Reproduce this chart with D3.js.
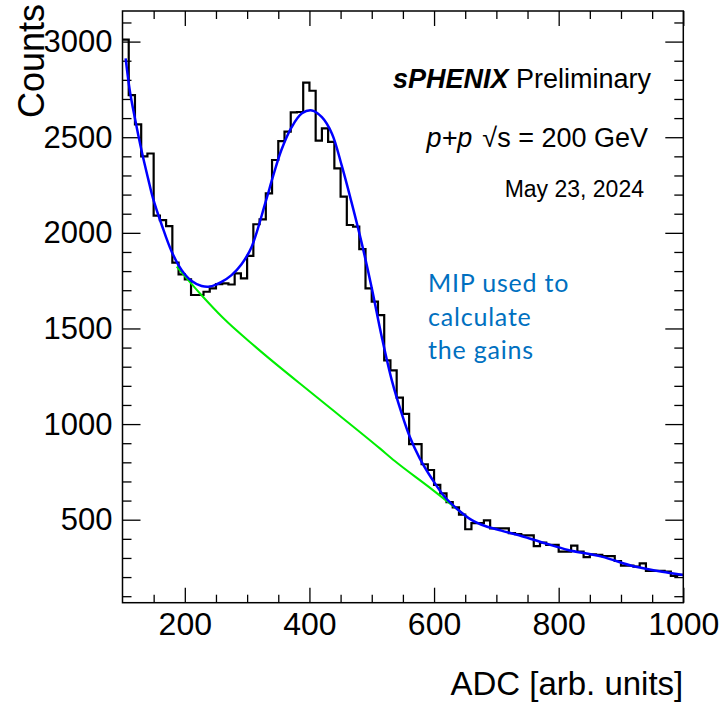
<!DOCTYPE html>
<html>
<head>
<meta charset="utf-8">
<script src="https://cdn.jsdelivr.net/npm/d3@7"></script>
<style>
  html, body { margin: 0; padding: 0; background: #fff; }
  svg { display: block; }
</style>
</head>
<body>
<svg id="chart" width="723" height="706"></svg>
<script>
// ---------------- data ----------------
const binLowEdges = d3.range(100, 1000, 10);   // 90 bins of width 10 ADC
const binWidth = 10;
const counts = [
  3010, 2720, 2567, 2400, 2415, 2090, 2067, 2035, 1844, 1783,
  1757, 1675, 1675, 1692, 1710, 1732, 1736, 1730, 1788, 1762,
  1880, 2045, 2070, 2206, 2381, 2480, 2529, 2630, 2632, 2785,
  2743, 2482, 2546, 2476, 2337, 2189, 2041, 2032, 1915, 1710,
  1640, 1570, 1333, 1281, 1138, 1053, 895, 895, 790, 760,
  682, 638, 592, 564, 527, 450, 482, 482, 497, 455,
  455, 455, 430, 425, 418, 418, 362, 380, 368, 368,
  333, 333, 364, 333, 304, 319, 316, 310, 310, 284,
  260, 260, 255, 272, 232, 232, 232, 228, 206, 211
];
// total fit (signal + background)
const fitX = [105, 112, 120, 131, 141, 149, 163, 179, 195, 211, 227, 240, 259, 275, 291, 307, 329, 342, 355, 371, 388, 404, 420, 436, 452, 468, 484, 500, 516, 532, 548, 561, 577, 596, 617, 639, 660, 682, 708, 740, 778, 815, 869, 922, 976, 1000];
const fitY = [2912, 2738, 2598, 2424, 2285, 2180, 2041, 1901, 1805, 1748, 1722, 1719, 1744, 1779, 1836, 1925, 2154, 2300, 2433, 2550, 2625, 2640, 2605, 2520, 2350, 2154, 1945, 1712, 1457, 1231, 1056, 934, 821, 717, 620, 551, 499, 467, 443, 415, 377, 342, 307, 255, 223, 211];
// background component
const bkgX = [187, 224, 262, 313, 414, 513, 537, 591, 652];
const bkgY = [1823, 1684, 1553, 1405, 1135, 873, 807, 673, 516];

const xMajorTicks = [200, 400, 600, 800, 1000];
const yMajorTicks = [500, 1000, 1500, 2000, 2500, 3000];
const xDomain = [100, 1000];
const yDomain = [66, 3160];

const xTitle = "ADC [arb. units]";
const yTitle = "Counts";
const noteLines = ["MIP used to", "calculate", "the gains"];

// ---------------- layout ----------------
const svg = d3.select("#chart");
const L = 122.5, R = 683.3, T = 11, B = 602.7;
const x = d3.scaleLinear().domain(xDomain).range([L, R]);
const y = d3.scaleLinear().domain(yDomain).range([B, T]);
const font = "'Liberation Sans', Arial, Helvetica, sans-serif";

svg.append("rect").attr("width", 723).attr("height", 706).attr("fill", "#fff");

svg.append("clipPath").attr("id", "clip")
  .append("rect").attr("x", L).attr("y", T).attr("width", R - L).attr("height", B - T);

// ---- axes (ticks pointing inward) ----
function styleAxis(g) {
  g.select(".domain").remove();
  g.selectAll(".tick line").attr("stroke", "#000").attr("stroke-width", 1.3);
}
const xMinor = d3.range(150, 1000, 50).filter(v => !xMajorTicks.includes(v));
const yMinor = d3.range(100, 3200, 100).filter(v => !yMajorTicks.includes(v) && v >= yDomain[0] && v <= yDomain[1]);

// bottom
svg.append("g").attr("transform", `translate(0,${B})`)
  .call(d3.axisBottom(x).tickValues(xMajorTicks).tickSize(-15).tickPadding(10).tickFormat(d3.format("d")))
  .call(styleAxis)
  .call(g => g.selectAll("text").attr("font-family", font).attr("font-size", 32).attr("fill", "#000"));
svg.append("g").attr("transform", `translate(0,${B})`)
  .call(d3.axisBottom(x).tickValues(xMinor).tickSize(-8).tickFormat(""))
  .call(styleAxis);
// top
svg.append("g").attr("transform", `translate(0,${T})`)
  .call(d3.axisTop(x).tickValues(xMajorTicks).tickSize(-15).tickFormat(""))
  .call(styleAxis);
svg.append("g").attr("transform", `translate(0,${T})`)
  .call(d3.axisTop(x).tickValues(xMinor).tickSize(-8).tickFormat(""))
  .call(styleAxis);
// left
svg.append("g").attr("transform", `translate(${L},0)`)
  .call(d3.axisLeft(y).tickValues(yMajorTicks).tickSize(-18).tickPadding(10).tickFormat(d3.format("d")))
  .call(styleAxis)
  .call(g => g.selectAll("text").attr("font-family", font).attr("font-size", 31).attr("fill", "#000"));
svg.append("g").attr("transform", `translate(${L},0)`)
  .call(d3.axisLeft(y).tickValues(yMinor).tickSize(-9).tickFormat(""))
  .call(styleAxis);
// right
svg.append("g").attr("transform", `translate(${R},0)`)
  .call(d3.axisRight(y).tickValues(yMajorTicks).tickSize(-18).tickFormat(""))
  .call(styleAxis);
svg.append("g").attr("transform", `translate(${R},0)`)
  .call(d3.axisRight(y).tickValues(yMinor).tickSize(-9).tickFormat(""))
  .call(styleAxis);

// ---- histogram ----
const histPts = binLowEdges.map((e, i) => [e, counts[i]]);
histPts.push([binLowEdges[binLowEdges.length - 1] + binWidth, counts[counts.length - 1]]);
const stepLine = d3.line().x(d => x(d[0])).y(d => y(d[1])).curve(d3.curveStepAfter);
const plot = svg.append("g").attr("clip-path", "url(#clip)");
plot.append("path").attr("d", stepLine(histPts))
  .attr("fill", "none").attr("stroke", "#000").attr("stroke-width", 2.2);

// ---- background (green) and total fit (blue) ----
const smooth = d3.line().x(d => x(d[0])).y(d => y(d[1])).curve(d3.curveMonotoneX);
plot.append("path").attr("d", smooth(bkgX.map((v, i) => [v, bkgY[i]])))
  .attr("fill", "none").attr("stroke", "#00ee00").attr("stroke-width", 2);
plot.append("path").attr("d", d3.line().x(d => x(d[0])).y(d => y(d[1])).curve(d3.curveCatmullRom.alpha(0.5))(fitX.map((v, i) => [v, fitY[i]])))
  .attr("fill", "none").attr("stroke", "#0000ff").attr("stroke-width", 2.5);

// ---- frame ----
svg.append("rect").attr("x", L).attr("y", T).attr("width", R - L).attr("height", B - T)
  .attr("fill", "none").attr("stroke", "#000").attr("stroke-width", 1.5);

// ---- axis titles ----
svg.append("text").attr("x", R).attr("y", 695).attr("text-anchor", "end")
  .attr("font-family", font).attr("font-size", 33).attr("fill", "#000").text(xTitle);
svg.append("text").attr("transform", "translate(44,4) rotate(-90)").attr("text-anchor", "end")
  .attr("font-family", font).attr("font-size", 36).attr("fill", "#000").text(yTitle);

// ---- labels ----
const t1 = svg.append("text").attr("x", 651).attr("y", 88).attr("text-anchor", "end")
  .attr("font-family", font).attr("font-size", 27).attr("fill", "#000");
t1.append("tspan").attr("font-weight", "bold").attr("font-style", "italic").text("sPHENIX");
t1.append("tspan").text(" Preliminary");

const t2 = svg.append("text").attr("x", 648).attr("y", 147).attr("text-anchor", "end")
  .attr("font-family", font).attr("font-size", 27).attr("fill", "#000");
t2.append("tspan").attr("font-style", "italic").text("p+p");
t2.append("tspan").attr("dx", 10).text("\u221As = 200 GeV");

svg.append("text").attr("x", 644).attr("y", 197).attr("text-anchor", "end")
  .attr("font-family", font).attr("font-size", 23).attr("fill", "#000").text("May 23, 2024");

svg.append("g").selectAll("text").data(noteLines).join("text")
  .attr("x", 428).attr("y", (d, i) => 292 + i * 33.5)
  .attr("font-family", "Lato, 'Open Sans', sans-serif").attr("font-size", 25)
  .attr("letter-spacing", 0.8)
  .attr("fill", "#0070c0").text(d => d);
</script>
</body>
</html>
